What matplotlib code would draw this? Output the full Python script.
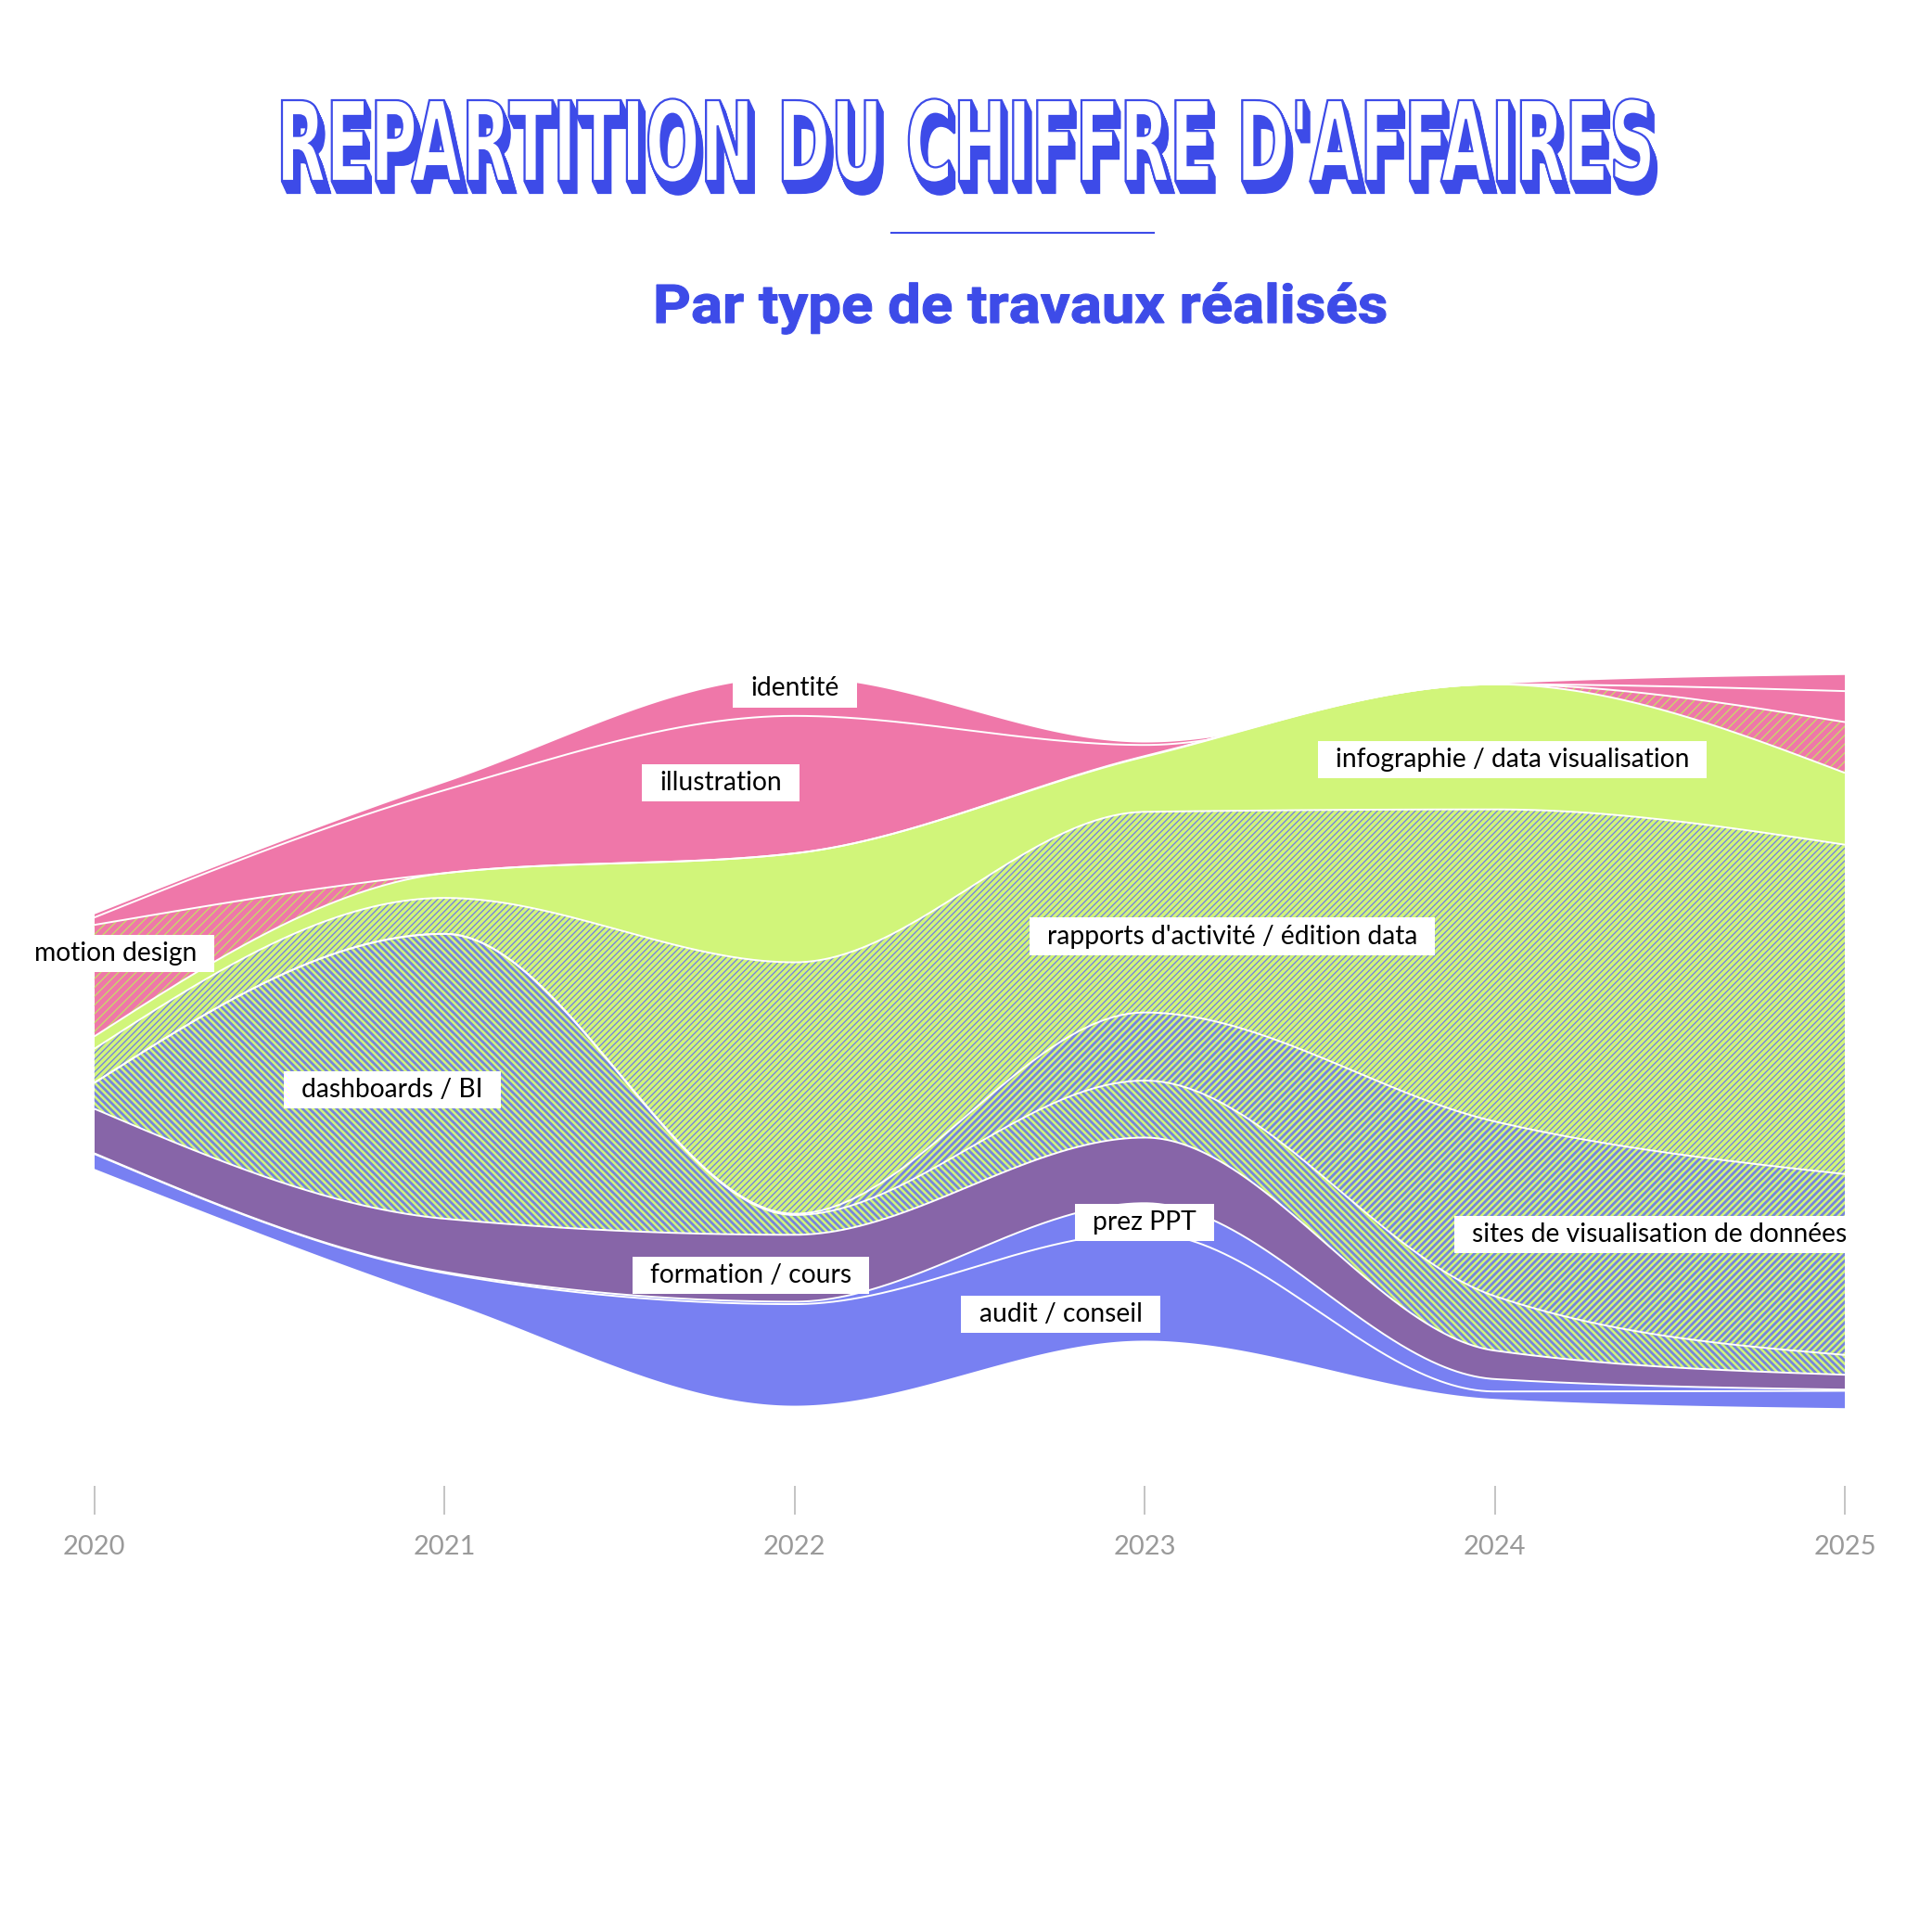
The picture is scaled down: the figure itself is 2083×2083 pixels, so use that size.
"""
Streamgraph : répartition du chiffre d'affaires par type de travaux (2020-2025)
"""

import numpy as np
import matplotlib
matplotlib.use("Agg")
import matplotlib.pyplot as plt
from matplotlib import font_manager as fm
from matplotlib.collections import LineCollection
from matplotlib.patches import PathPatch
from matplotlib.path import Path
from matplotlib.textpath import TextPath
from matplotlib.font_manager import FontProperties
from matplotlib.transforms import Affine2D, IdentityTransform

years = [2020, 2021, 2022, 2023, 2024, 2025]

# valeurs (unités relatives), de bas en haut
audit = [12, 22, 82, 87, 6, 14]
prez_ppt = [0.5, 1, 2, 24, 10, 1]
formation = [36, 43, 54, 53, 23, 12]
dashboards = [21, 230, 16, 46, 44, 16]
sites_dataviz = [0, 0, 1, 55, 141, 146]
rapports = [27.5, 29, 203, 162, 252, 266]
infographie = [10, 20, 88, 44.5, 101, 58]
motion_design = [90, 0, 0, 0.5, 0, 41]
illustration = [6, 67, 111, 9, 0, 25]
identite = [2.5, 6, 31, 2, 0, 13]

names = ["audit / conseil", "prez PPT", "formation / cours", "dashboards / BI",
         "sites de visualisation de données", "rapports d'activité / édition data",
         "infographie / data visualisation", "motion design", "illustration", "identité"]

BLUE = "#7880f2"
PURPLE = "#8765a8"
LIME = "#d1f57a"
PINK = "#ef77a9"
STRIPE_BLUE = "#7683dc"
TITLE_BLUE = "#3d4be8"

# fond, couleur des hachures, période horizontale (px), épaisseur (px), sens
styles = [
    (BLUE, None, 0, 0, 0),
    (BLUE, None, 0, 0, 0),
    (PURPLE, None, 0, 0, 0),
    (LIME, STRIPE_BLUE, 7.4, 2.7, -1),
    (LIME, STRIPE_BLUE, 7.4, 2.7, 1),
    (LIME, STRIPE_BLUE, 6.8, 1.35, 1),
    (LIME, None, 0, 0, 0),
    (PINK, "#c9d66b", 9.5, 1.4, 1),
    (PINK, None, 0, 0, 0),
    (PINK, None, 0, 0, 0),
]

# position des étiquettes (année, décalage vertical)
label_pos = {
    "identité": (2022.0, 285),
    "illustration": (2021.79, 209),
    "motion design": (2020.06, 71),
    "infographie / data visualisation": (2024.05, 228),
    "rapports d'activité / édition data": (2023.25, 85),
    "dashboards / BI": (2020.85, -39),
    "sites de visualisation de données": (2024.47, -156),
    "formation / cours": (2021.875, -189),
    "prez PPT": (2023.0, -146),
    "audit / conseil": (2022.76, -220),
}

DPI = 100
SIZE = 2083


def monotone_x(x, y, xs):
    # même courbe que d3.curveMonotoneX
    x = np.asarray(x, float)
    y = np.asarray(y, float)
    h = np.diff(x)
    s = np.diff(y) / h
    n = len(x)
    t = np.zeros(n)
    sign = lambda v: -1.0 if v < 0 else 1.0
    for i in range(1, n - 1):
        p = (s[i - 1] * h[i] + s[i] * h[i - 1]) / (h[i - 1] + h[i])
        t[i] = (sign(s[i - 1]) + sign(s[i])) * min(abs(s[i - 1]), abs(s[i]), 0.5 * abs(p))
    t[0] = (3 * s[0] - t[1]) / 2
    t[-1] = (3 * s[-1] - t[-2]) / 2
    idx = np.clip(np.searchsorted(x, xs, side="right") - 1, 0, n - 2)
    u = (xs - x[idx]) / h[idx]
    h00 = 2 * u**3 - 3 * u**2 + 1
    h10 = u**3 - 2 * u**2 + u
    h01 = -2 * u**3 + 3 * u**2
    h11 = u**3 - u**2
    return h00 * y[idx] + h10 * h[idx] * t[idx] + h01 * y[idx + 1] + h11 * h[idx] * t[idx + 1]


def add_stripes(ax, coll, period, width, color, direction):
    path = coll.get_paths()[0]
    cs = np.arange(-2 * SIZE, 2 * SIZE, period)
    segs = [[(0, c), (SIZE, c + direction * SIZE)] for c in cs]
    lc = LineCollection(segs, colors=color, linewidths=width * 72 / DPI,
                        transform=IdentityTransform(), zorder=1.5)
    lc.set_clip_path(path, ax.transData)
    ax.add_collection(lc, autolim=False)


def label_box(x0, y0, width, height, mutation_size):
    px, py = 0.68 * mutation_size, 0.25 * mutation_size
    verts = [(x0 - px, y0 - py), (x0 + width + px, y0 - py),
             (x0 + width + px, y0 + height + py), (x0 - px, y0 + height + py), (x0 - px, y0 - py)]
    return Path(verts, [Path.MOVETO, Path.LINETO, Path.LINETO, Path.LINETO, Path.CLOSEPOLY])


def draw_text_path(axt, s, prop, left, right, cap_top, baseline, face, edge, lw, shadow=None):
    tp = TextPath((0, 0), s, size=100, prop=prop)
    cap = TextPath((0, 0), "H", size=100, prop=prop).get_extents().y1
    ext = tp.get_extents()
    sx = (right - left) / ext.width
    sy = (baseline - cap_top) / cap
    tr = Affine2D().translate(-ext.x0, 0).scale(sx, -sy).translate(left, baseline)
    p = tr.transform_path(tp)
    if shadow is not None:
        dx, dy = shadow
        for f in np.linspace(0, 1, 16)[1:]:
            sp = Affine2D().translate(dx * f, dy * f).transform_path(p)
            axt.add_patch(PathPatch(sp, facecolor=edge, edgecolor=edge, lw=lw))
    axt.add_patch(PathPatch(p, facecolor=face, edgecolor=edge, lw=lw))


installed = {f.name for f in fm.fontManager.ttflist}
label_font = "Lato" if "Lato" in installed else "DejaVu Sans"
title_font = "Liberation Sans Narrow" if "Liberation Sans Narrow" in installed else "DejaVu Sans"
sub_font = "Roboto" if "Roboto" in installed else "DejaVu Sans"

fig = plt.figure(figsize=(SIZE / DPI, SIZE / DPI), dpi=DPI)

# ---- titre ----
axt = fig.add_axes([0, 0, 1, 1])
axt.set_xlim(0, SIZE)
axt.set_ylim(SIZE, 0)
axt.set_axis_off()
draw_text_path(axt, "REPARTITION DU CHIFFRE D'AFFAIRES",
               FontProperties(family=title_font, weight="bold"),
               304, 1780, 108, 195, "white", TITLE_BLUE, 1.6, shadow=(6, 13))
axt.plot([961, 1244], [251, 251], color=TITLE_BLUE, lw=1.5)
draw_text_path(axt, "Par type de travaux réalisés",
               FontProperties(family=sub_font, weight="bold"),
               708, 1494, 307, 348, TITLE_BLUE, TITLE_BLUE, 0.8)

# ---- streamgraph ----
x0_px, x1_px = 101.8, 1989.0
center_px, unit_px = 1123.0, SIZE / 1560
ax_bottom_px, ax_top_px = 1602.0, 600.0
ax = fig.add_axes([x0_px / SIZE, 1 - ax_bottom_px / SIZE,
                   (x1_px - x0_px) / SIZE, (ax_bottom_px - ax_top_px) / SIZE])
ax.set_xlim(2020, 2025)
ax.set_ylim(-(ax_bottom_px - center_px) / unit_px, (center_px - ax_top_px) / unit_px)

layers = np.array([audit, prez_ppt, formation, dashboards, sites_dataviz, rapports,
                   infographie, motion_design, illustration, identite], float)
total = layers.sum(axis=0)
bounds = np.vstack([-total / 2, -total / 2 + np.cumsum(layers, axis=0)])

xs = np.linspace(2020, 2025, 1200)
curves = np.array([monotone_x(years, b, xs) for b in bounds])
curves = np.maximum.accumulate(curves, axis=0)

for k, (bg, sc, period, width, direction) in enumerate(styles):
    coll = ax.fill_between(xs, curves[k], curves[k + 1], facecolor=bg, lw=0, zorder=1)
    if sc is not None:
        add_stripes(ax, coll, period, width, sc, direction)

for k in range(1, len(curves) - 1):
    ax.plot(xs, curves[k], color="white", lw=1.4, zorder=3, solid_capstyle="butt")

for name in names:
    lx, ly = label_pos[name]
    ax.text(lx, ly, name, ha="center", va="center", fontsize=20.3, family=label_font,
            color="black", zorder=5,
            bbox=dict(boxstyle=label_box, facecolor="white", edgecolor="none"))

ax.set_xticks(years)
ax.set_xticklabels([str(y) for y in years], family=label_font, color="#9a9a9a")
ax.tick_params(axis="x", length=22.3, width=1.1, color="#b4b4b4", pad=16, labelsize=21)
ax.set_yticks([])
for sp in ax.spines.values():
    sp.set_visible(False)
ax.patch.set_visible(False)

fig.savefig("out.png", dpi=DPI)
